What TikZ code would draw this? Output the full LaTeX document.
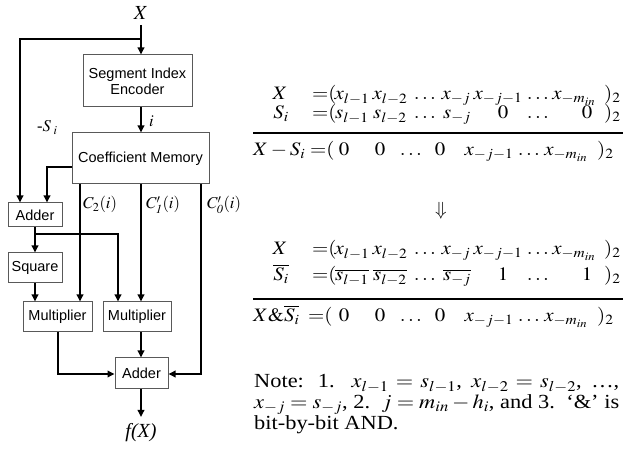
\documentclass[tikz,border=0pt]{standalone}
\usepackage{mathptmx}
\usepackage{fontspec}
\setmainfont{Liberation Serif}
\setsansfont{Liberation Sans}
\usepackage{graphicx}
\usetikzlibrary{arrows.meta}
\newcommand\sx[1]{\scalebox{1.1}[1]{#1}}
\newcommand\sn[1]{\scalebox{1.12}[1]{#1}}
\newcommand\eqp{\mathord{=}(}
\begin{document}
\begin{tikzpicture}[x=1pt,y=-1pt,
  blk/.style={draw=black!65, line width=1pt, fill=white, inner sep=0pt, align=center,
    font=\sffamily\fontsize{14.5}{16}\selectfont},
  wire/.style={line width=1.8pt},
  arr/.style={wire, -{Triangle[length=7pt,width=6.5pt]}},
  lbl/.style={inner sep=0pt, font=\fontsize{16.5}{18}\selectfont},
  mt/.style={inner sep=0pt, anchor=base, font=\fontsize{19}{21}\selectfont},
  mtw/.style={mt, anchor=base west},
  rulel/.style={line width=2.6pt},
  nt/.style={inner sep=0pt, anchor=base west, font=\fontsize{20}{22}\selectfont}]
\useasboundingbox (0,0) rectangle (638,454);

% ---------- block diagram ----------
\node[blk, minimum width=109pt, minimum height=52pt] (enc) at (137.5,81) {Segment Index\\Encoder};
\node[blk, minimum width=137pt, minimum height=51pt] (mem) at (140.5,158.5) {Coefficient Memory};
\node[blk, minimum width=54pt, minimum height=24pt] (add1) at (35,215) {Adder};
\node[blk, minimum width=54pt, minimum height=30pt] (sq) at (35,268) {Square};
\node[blk, minimum width=69pt, minimum height=30pt] (mul1) at (57.5,317) {Multiplier};
\node[blk, minimum width=68pt, minimum height=30pt] (mul2) at (137,317) {Multiplier};
\node[blk, minimum width=53pt, minimum height=31pt] (add2) at (141.5,373.5) {Adder};

\node[inner sep=0pt, font=\fontsize{20}{22}\selectfont] (X) at (141,13) {$X$};
\node[inner sep=0pt, font=\fontsize{20}{22}\selectfont] (fX) at (141,433) {\textit{f(X)}};

\coordinate (b1) at (141,39);
\coordinate (b2) at (35,234);
\coordinate (fo) at (141,417);

\draw[arr] (141,25) -- (141,0 |- enc.north);
\draw[arr] (b1) -- (20,39) -- (20,0 |- add1.north);
\draw[arr] (141,0 |- enc.south) -- (141,0 |- mem.north);
\node[lbl, anchor=west] (ilbl) at (149,121) {$i$};
\draw[arr] (mem.west |- 0,167) -- (47,167) -- (47,0 |- add1.north);
\node[lbl, anchor=base west] (slbl) at (37,132) {-$S_{\;i}$};

\draw[arr] (80,0 |- mem.south) -- (80,0 |- mul1.north);
\draw[arr] (141,0 |- mem.south) -- (141,0 |- mul2.north);
\draw[arr] (201,0 |- mem.south) -- (201,374) -- (add2.east |- 0,374);
\node[lbl, anchor=base west] (c2) at (83,209) {$C_2(i)$};
\node[lbl, anchor=base west] (c1) at (146,209) {$C'_{\mathit{1}}(i)$};
\node[lbl, anchor=base west] (c0) at (207,209) {$C'_{\mathit{0}}(i)$};

\draw[arr] (35,0 |- add1.south) -- (35,0 |- sq.north);
\draw[arr] (b2) -- (118,234) -- (118,0 |- mul2.north);
\draw[arr] (35,0 |- sq.south) -- (35,0 |- mul1.north);
\draw[arr] (58,0 |- mul1.south) -- (58,374) -- (add2.west |- 0,374);
\draw[arr] (141,0 |- mul2.south) -- (141,0 |- add2.north);
\draw[arr] (141,0 |- add2.south) -- (fo);

% ---------- first derivation ----------
\node[mt] (r1a) at (280,100) {\sx{$X$}};
\node[mtw] (r1b) at (312,100) {\sx{$\eqp$}};
\node[mt] (r1c) at (352,100) {\sx{$x_{l-1}$}};
\node[mt] (r1d) at (390,100) {\sx{$x_{l-2}$}};
\node[mt] (r1e) at (425,100) {\sx{$\ldots$}};
\node[mt] (r1f) at (456,100) {\sx{$x_{-j}$}};
\node[mt] (r1g) at (498,100) {\sx{$x_{-j-1}$}};
\node[mt] (r1h) at (538,100) {\sx{$\ldots$}};
\node[mt] (r1i) at (574,100) {\sx{$x_{-m_{in}}$}};
\node[mtw] (r1j) at (604,100) {\sx{$)_2$}};

\node[mt] (r2a) at (281,119) {\sx{$S_i$}};
\node[mtw] (r2b) at (312,119) {\sx{$\eqp$}};
\node[mt] (r2c) at (352,119) {\sx{$s_{l-1}$}};
\node[mt] (r2d) at (390,119) {\sx{$s_{l-2}$}};
\node[mt] (r2e) at (425,119) {\sx{$\ldots$}};
\node[mt] (r2f) at (457,119) {\sx{$s_{-j}$}};
\node[mt] (r2g) at (503,119) {\sx{$0$}};
\node[mt] (r2h) at (538,119) {\sx{$\ldots$}};
\node[mt] (r2i) at (587,119) {\sx{$0$}};
\node[mtw] (r2j) at (604,119) {\sx{$)_2$}};

\coordinate (L1a) at (253,133);
\coordinate (L1b) at (623,133);
\draw[rulel] (L1a) -- (L1b);

\node[mtw] (r3a) at (253,156) {\sx{$X-S_i$}};
\node[mtw] (r3b) at (310,156) {\sx{$\eqp$}};
\node[mt] (r3c) at (344,156) {\sx{$0$}};
\node[mt] (r3d) at (380,156) {\sx{$0$}};
\node[mt] (r3e) at (411,156) {\sx{$\ldots$}};
\node[mt] (r3f) at (440,156) {\sx{$0$}};
\node[mt] (r3g) at (489,156) {\sx{$x_{-j-1}$}};
\node[mt] (r3h) at (529,156) {\sx{$\ldots$}};
\node[mt] (r3i) at (566,156) {\sx{$x_{-m_{in}}$}};
\node[mtw] (r3j) at (597,156) {\sx{$)_2$}};

\node[inner sep=0pt, font=\fontsize{19}{21}\selectfont] (dn) at (441,211) {$\Downarrow$};

% ---------- second derivation ----------
\node[mt] (r4a) at (280,255) {\sx{$X$}};
\node[mtw] (r4b) at (312,255) {\sx{$\eqp$}};
\node[mt] (r4c) at (352,255) {\sx{$x_{l-1}$}};
\node[mt] (r4d) at (390,255) {\sx{$x_{l-2}$}};
\node[mt] (r4e) at (425,255) {\sx{$\ldots$}};
\node[mt] (r4f) at (456,255) {\sx{$x_{-j}$}};
\node[mt] (r4g) at (498,255) {\sx{$x_{-j-1}$}};
\node[mt] (r4h) at (538,255) {\sx{$\ldots$}};
\node[mt] (r4i) at (574,255) {\sx{$x_{-m_{in}}$}};
\node[mtw] (r4j) at (604,255) {\sx{$)_2$}};

\node[mt] (r5a) at (281,281) {\sx{$\overline{S_i}$}};
\node[mtw] (r5b) at (312,281) {\sx{$\eqp$}};
\node[mt] (r5c) at (352,281) {\sx{$\overline{s_{l-1}}$}};
\node[mt] (r5d) at (390,281) {\sx{$\overline{s_{l-2}}$}};
\node[mt] (r5e) at (425,281) {\sx{$\ldots$}};
\node[mt] (r5f) at (457,281) {\sx{$\overline{s_{-j}}$}};
\node[mt] (r5g) at (503,281) {\sx{$1$}};
\node[mt] (r5h) at (538,281) {\sx{$\ldots$}};
\node[mt] (r5i) at (587,281) {\sx{$1$}};
\node[mtw] (r5j) at (604,281) {\sx{$)_2$}};

\coordinate (L2a) at (253,299);
\coordinate (L2b) at (623,299);
\draw[rulel] (L2a) -- (L2b);

\node[mtw] (r6a) at (253,322) {\sx{$X\&\overline{S_i}$}};
\node[mtw] (r6b) at (308,322) {\sx{$\eqp$}};
\node[mt] (r6c) at (344,322) {\sx{$0$}};
\node[mt] (r6d) at (380,322) {\sx{$0$}};
\node[mt] (r6e) at (411,322) {\sx{$\ldots$}};
\node[mt] (r6f) at (440,322) {\sx{$0$}};
\node[mt] (r6g) at (489,322) {\sx{$x_{-j-1}$}};
\node[mt] (r6h) at (529,322) {\sx{$\ldots$}};
\node[mt] (r6i) at (566,322) {\sx{$x_{-m_{in}}$}};
\node[mtw] (r6j) at (597,322) {\sx{$)_2$}};

% ---------- note ----------
\node[nt] (n1) at (254,388) {\sn{\makebox[326pt][s]{Note: 1. $x_{l-1}=s_{l-1}$, $x_{l-2}=s_{l-2}$, \ldots,}}};
\node[nt] (n2) at (254,409) {\sn{\makebox[326pt][s]{$x_{-j}=s_{-j}$, 2.\ \ $j=m_{in}-h_i$, and 3.\ \ `\&' is}}};
\node[nt] (n3) at (254,430) {\sn{bit-by-bit AND.}};
\end{tikzpicture}
\end{document}
